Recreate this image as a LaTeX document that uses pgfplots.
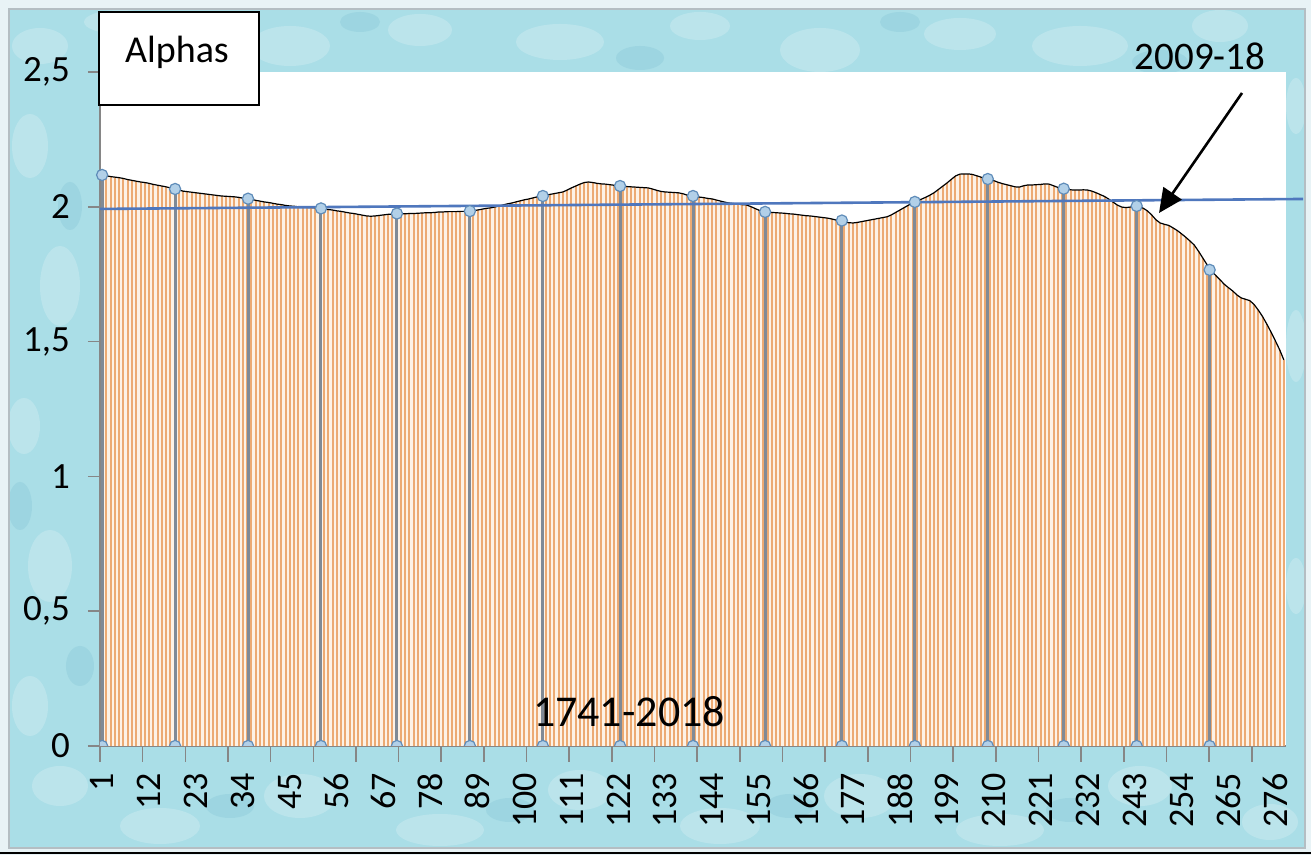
\documentclass[border=0pt]{standalone}
\usepackage{fontspec}
\setmainfont{Carlito}
\usepackage{pgfplots}
\pgfplotsset{compat=1.18}
\usepackage{pgfplotstable}
\usetikzlibrary{arrows.meta}

\definecolor{bgcyan}{RGB}{170,222,231}
\definecolor{darkcyan}{RGB}{120,190,208}
\definecolor{outerbg}{RGB}{232,243,246}
\definecolor{framegray}{RGB}{180,190,195}
\definecolor{orangeline}{RGB}{236,170,115}
\definecolor{peach}{RGB}{253,242,230}
\definecolor{dropgray}{RGB}{128,138,150}
\definecolor{markfill}{RGB}{178,208,232}
\definecolor{markdraw}{RGB}{95,140,185}
\definecolor{trendblue}{RGB}{79,119,189}
\definecolor{axisgray}{RGB}{134,134,134}

\newcommand{\yl}[1]{\makebox[24pt][r]{#1}}

\pgfplotstableread[row sep=\\]{
i v\\
1 2.118\\ 2 2.115\\ 3 2.112\\ 4 2.110\\ 5 2.108\\ 6 2.105\\ 7 2.101\\ 8 2.098\\ 9 2.095\\ 10 2.092\\
11 2.090\\ 12 2.087\\ 13 2.083\\ 14 2.080\\ 15 2.077\\ 16 2.074\\ 17 2.070\\ 18 2.066\\ 19 2.062\\ 20 2.058\\
21 2.056\\ 22 2.054\\ 23 2.052\\ 24 2.050\\ 25 2.048\\ 26 2.046\\ 27 2.044\\ 28 2.042\\ 29 2.040\\ 30 2.039\\
31 2.038\\ 32 2.037\\ 33 2.035\\ 34 2.032\\ 35 2.030\\ 36 2.027\\ 37 2.024\\ 38 2.021\\ 39 2.018\\ 40 2.016\\
41 2.013\\ 42 2.010\\ 43 2.008\\ 44 2.005\\ 45 2.003\\ 46 2.002\\ 47 2.000\\ 48 1.999\\ 49 1.998\\ 50 1.997\\
51 1.996\\ 52 1.994\\ 53 1.992\\ 54 1.990\\ 55 1.988\\ 56 1.985\\ 57 1.983\\ 58 1.980\\ 59 1.977\\ 60 1.975\\
61 1.972\\ 62 1.969\\ 63 1.966\\ 64 1.965\\ 65 1.966\\ 66 1.968\\ 67 1.970\\ 68 1.972\\ 69 1.973\\ 70 1.973\\
71 1.974\\ 72 1.974\\ 73 1.975\\ 74 1.975\\ 75 1.976\\ 76 1.977\\ 77 1.978\\ 78 1.978\\ 79 1.979\\ 80 1.981\\
81 1.981\\ 82 1.982\\ 83 1.982\\ 84 1.982\\ 85 1.983\\ 86 1.983\\ 87 1.984\\ 88 1.986\\ 89 1.988\\ 90 1.991\\
91 1.994\\ 92 1.996\\ 93 1.999\\ 94 2.003\\ 95 2.007\\ 96 2.011\\ 97 2.014\\ 98 2.018\\ 99 2.022\\ 100 2.026\\
101 2.029\\ 102 2.033\\ 103 2.037\\ 104 2.040\\ 105 2.043\\ 106 2.046\\ 107 2.049\\ 108 2.052\\ 109 2.055\\ 110 2.062\\
111 2.070\\ 112 2.077\\ 113 2.084\\ 114 2.090\\ 115 2.092\\ 116 2.090\\ 117 2.087\\ 118 2.085\\ 119 2.084\\ 120 2.082\\
121 2.080\\ 122 2.077\\ 123 2.076\\ 124 2.075\\ 125 2.074\\ 126 2.073\\ 127 2.072\\ 128 2.071\\ 129 2.070\\ 130 2.066\\
131 2.061\\ 132 2.057\\ 133 2.055\\ 134 2.054\\ 135 2.053\\ 136 2.052\\ 137 2.049\\ 138 2.044\\ 139 2.040\\ 140 2.038\\
141 2.036\\ 142 2.034\\ 143 2.031\\ 144 2.029\\ 145 2.025\\ 146 2.021\\ 147 2.017\\ 148 2.014\\ 149 2.012\\ 150 2.010\\
151 2.008\\ 152 2.007\\ 153 2.001\\ 154 1.994\\ 155 1.987\\ 156 1.981\\ 157 1.980\\ 158 1.979\\ 159 1.978\\ 160 1.977\\
161 1.976\\ 162 1.974\\ 163 1.973\\ 164 1.971\\ 165 1.969\\ 166 1.967\\ 167 1.966\\ 168 1.964\\ 169 1.962\\ 170 1.960\\
171 1.958\\ 172 1.955\\ 173 1.951\\ 174 1.947\\ 175 1.944\\ 176 1.941\\ 177 1.940\\ 178 1.942\\ 179 1.945\\ 180 1.948\\
181 1.951\\ 182 1.954\\ 183 1.957\\ 184 1.960\\ 185 1.963\\ 186 1.970\\ 187 1.979\\ 188 1.988\\ 189 1.997\\ 190 2.006\\
191 2.015\\ 192 2.022\\ 193 2.028\\ 194 2.035\\ 195 2.043\\ 196 2.052\\ 197 2.064\\ 198 2.076\\ 199 2.088\\ 200 2.101\\
201 2.114\\ 202 2.121\\ 203 2.122\\ 204 2.122\\ 205 2.120\\ 206 2.115\\ 207 2.110\\ 208 2.105\\ 209 2.102\\ 210 2.097\\
211 2.091\\ 212 2.086\\ 213 2.082\\ 214 2.078\\ 215 2.074\\ 216 2.073\\ 217 2.078\\ 218 2.081\\ 219 2.081\\ 220 2.082\\
221 2.083\\ 222 2.085\\ 223 2.084\\ 224 2.078\\ 225 2.072\\ 226 2.067\\ 227 2.065\\ 228 2.063\\ 229 2.062\\ 230 2.062\\
231 2.063\\ 232 2.062\\ 233 2.058\\ 234 2.052\\ 235 2.045\\ 236 2.038\\ 237 2.028\\ 238 2.017\\ 239 2.006\\ 240 1.999\\
241 1.997\\ 242 1.999\\ 243 2.002\\ 244 2.001\\ 245 1.995\\ 246 1.985\\ 247 1.970\\ 248 1.952\\ 249 1.940\\ 250 1.935\\
251 1.931\\ 252 1.922\\ 253 1.912\\ 254 1.900\\ 255 1.887\\ 256 1.873\\ 257 1.858\\ 258 1.835\\ 259 1.810\\ 260 1.785\\
261 1.762\\ 262 1.746\\ 263 1.730\\ 264 1.713\\ 265 1.700\\ 266 1.688\\ 267 1.673\\ 268 1.662\\ 269 1.657\\ 270 1.652\\
271 1.638\\ 272 1.617\\ 273 1.593\\ 274 1.565\\ 275 1.535\\ 276 1.503\\ 277 1.470\\ 278 1.432\\
}\alphas

\pgfplotstableread[row sep=\\]{
x y\\
1 2.118\\ 18.1 2.066\\ 35.2 2.030\\ 52.3 1.994\\ 70.1 1.975\\ 87.2 1.984\\ 104.3 2.040\\ 122.4 2.077\\
139.5 2.040\\ 156.4 1.981\\ 174.4 1.949\\ 191.5 2.018\\ 208.6 2.103\\ 226.4 2.067\\ 243.5 2.003\\ 260.6 1.766\\
}\markers

\pgfplotstableread[row sep=\\]{
x y\\
1 0\\ 18.1 0\\ 35.2 0\\ 52.3 0\\ 70.1 0\\ 87.2 0\\ 104.3 0\\ 122.4 0\\
139.5 0\\ 156.4 0\\ 174.4 0\\ 191.5 0\\ 208.6 0\\ 226.4 0\\ 243.5 0\\ 260.6 0\\
}\bottommarkers

\begin{document}
\begin{tikzpicture}
\fill[outerbg] (-50pt,-54.5pt) rectangle (605.5pt,373pt);
\begin{scope}
\clip (-45.5pt,-51pt) rectangle (602.5pt,368.5pt);
\fill[bgcyan] (-45.5pt,-51pt) rectangle (602.5pt,368.5pt);
\foreach \x/\y/\a/\b in {-30/350/14/9, 10/362/18/6, 95/350/20/10, 160/358/16/8, 230/352/22/9,
  300/360/15/7, 360/348/20/11, 430/356/18/8, 490/350/24/10, 560/360/14/8,
  -35/300/9/16, -20/230/10/20, -38/160/8/14, -25/90/11/18, -35/20/9/15,
  -20/-20/14/10, 30/-40/20/9, 100/-25/18/11, 170/-42/22/8, 240/-22/16/10,
  310/-40/20/9, 380/-25/18/11, 450/-42/22/8, 520/-20/16/10, 585/-38/14/9,
  598/320/5/14, 598/200/5/18, 598/80/5/14}
  \fill[white, opacity=0.2] (\x pt,\y pt) ellipse (\a pt and \b pt);
\foreach \x/\y/\a/\b in {40/345/12/6, 130/362/10/5, 270/344/12/6, 400/362/10/5, 530/342/14/6,
  -15/270/6/12, -40/120/6/12, -10/40/7/10, 65/-30/12/6, 205/-32/12/6, 345/-30/12/6, 485/-32/12/6}
  \fill[darkcyan, opacity=0.25] (\x pt,\y pt) ellipse (\a pt and \b pt);
\end{scope}
\draw[framegray, line width=1pt] (-45.5pt,-51pt) rectangle (602.5pt,368.5pt);
\draw[black, line width=0.8pt] (-50pt,-53.5pt) -- (605.5pt,-53.5pt);

\begin{axis}[
  scale only axis, width=593pt, height=337pt,
  xmin=0.5, xmax=278.5, ymin=0, ymax=2.5,
  axis background/.style={fill=white},
  axis x line*=bottom, axis y line*=left,
  axis line style={draw=axisgray, line width=0.8pt},
  tick align=outside,
  tick style={draw=axisgray, line width=0.8pt},
  major tick length=6pt, minor tick length=8pt,
  xtick={1,12,...,276},
  minor xtick={0.5,10.5,...,270.5},
  every major x tick/.append style={draw=none},
  ytick={0,0.5,1,1.5,2,2.5},
  yticklabels={{\yl{0}},{\yl{0,5}},{\yl{1}},{\yl{1,5}},{\yl{2}},{\yl{2,5}}},
  /pgf/number format/assume math mode=true,
  ticklabel style={font=\fontsize{18}{20}\selectfont, text=black},
  xticklabel style={yshift=-4pt, rotate=90, anchor=east},
  yticklabel style={anchor=east, xshift=-5.5pt, font=\fontsize{18.5}{20}\selectfont},
  clip=true, clip marker paths=true,
]
\addplot[fill=peach, draw=none] table[x=i,y=v]{\alphas} \closedcycle;
\addplot[ycomb, draw=orangeline, line width=1pt] table[x=i,y=v]{\alphas};
\addplot[black, line width=0.6pt] table[x=i,y=v]{\alphas};
\addplot[ycomb, draw=dropgray, line width=1.5pt] table[x=x,y=y]{\markers};
\addplot[only marks, mark=*, mark size=2.8pt, mark options={fill=markfill, draw=markdraw, line width=0.6pt}] table[x=x,y=y]{\bottommarkers};
\end{axis}

\begin{axis}[
  scale only axis, width=593pt, height=337pt,
  xmin=0.5, xmax=278.5, ymin=0, ymax=2.5,
  hide axis, clip=false,
]
\addplot[trendblue, line width=1.3pt] coordinates {(0.5,1.992) (282.5,2.029)};
\addplot[only marks, mark=*, mark size=2.8pt, mark options={fill=markfill, draw=markdraw, line width=0.6pt}] table[x=x,y=y]{\markers};
\end{axis}

\node[draw=black, line width=1pt, fill=white, minimum width=80pt, minimum height=46.5pt, inner sep=0pt, anchor=south west] at (-1pt,320pt) {};
\node[font=\fontsize{19}{22}\selectfont] at (38.5pt,347pt) {Alphas};
\node[font=\fontsize{19.5}{22}\selectfont, anchor=base] at (550pt,338pt) {2009-18};
\draw[black, line width=1.3pt, -{Triangle[length=12pt,width=11pt]}] (571pt,326.5pt) -- (529.5pt,266.5pt);
\node[font=\fontsize{22}{24}\selectfont, anchor=base] at (264.5pt,9.5pt) {1741-2018};

\pgfresetboundingbox
\useasboundingbox (-50pt,-54.5pt) rectangle (605.5pt,373pt);
\end{tikzpicture}
\end{document}
